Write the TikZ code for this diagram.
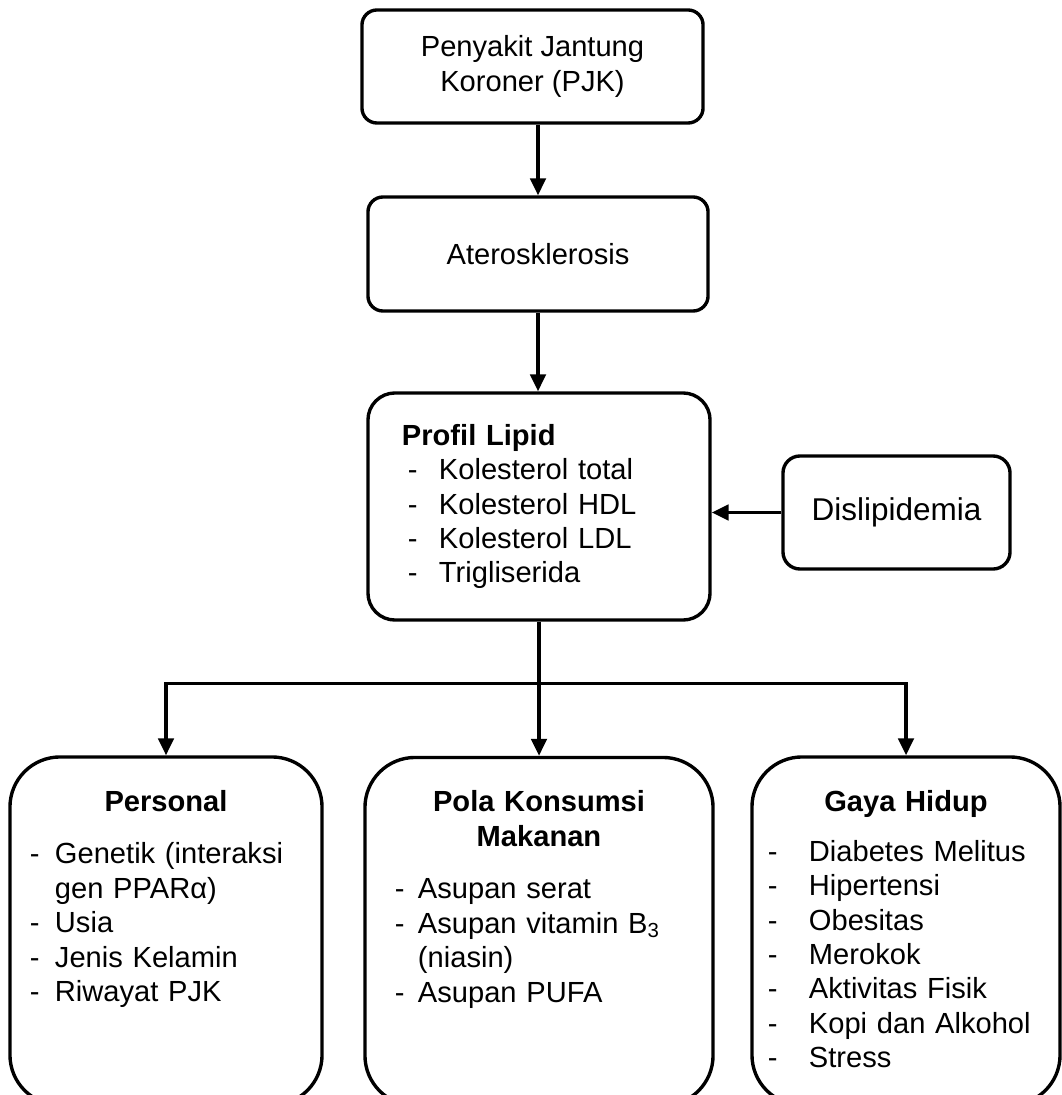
\documentclass[tikz,border=0pt]{standalone}
\usepackage{fontspec}
\setmainfont{Liberation Sans}
\usepackage{tikz}
\usetikzlibrary{arrows.meta,positioning}

\newcommand{\mainsize}{\fontsize{20.7pt}{24.5pt}\selectfont}
\newcommand{\dashline}[3]{\makebox[#2][l]{\hspace*{#1}-}#3}

\begin{document}
\begin{tikzpicture}[x=0.025cm,y=-0.025cm,
    box/.style={draw,line width=2.4pt,rounded corners=0.375cm,align=center,font=\mainsize,minimum height=2.85cm},
    lipidbox/.style={draw,line width=2.4pt,rounded corners=0.675cm,align=left,font=\mainsize,text width=6.85cm,inner xsep=0.85cm,minimum height=5.675cm},
    lowbox/.style={draw,line width=2.4pt,rounded corners=1.25cm,minimum height=8.7cm},
    lowtext/.style={inner sep=0pt,font=\mainsize},
    arr/.style={line width=2.4pt,-{Triangle[length=12pt,width=11pt]}}]
  \useasboundingbox (0,0) rectangle (1062,1095);
  % top column
  \node[box,minimum width=8.525cm,minimum height=2.825cm] (pjk) at (532.5,66.5) {Penyakit Jantung\\Koroner (PJK)};
  \node[box,minimum width=8.5cm] (ater) at (538,254) {Aterosklerosis};
  \node[lipidbox] (lipid) at (539,506.5) {\textbf{Profil Lipid}\\
    \dashline{0.15cm}{0.925cm}{Kolesterol total}\\
    \dashline{0.15cm}{0.925cm}{Kolesterol HDL}\\
    \dashline{0.15cm}{0.925cm}{Kolesterol LDL}\\
    \dashline{0.15cm}{0.925cm}{Trigliserida}};
  \node[box,rounded corners=0.425cm,minimum width=5.675cm,minimum height=2.825cm,font=\fontsize{22.4pt}{26pt}\selectfont] (dis) at (896.5,512.5) {Dislipidemia};
  % bottom row
  \node[lowbox,minimum width=7.8cm] (personal) at (166,931) {};
  \node[lowbox,minimum width=8.7cm] (pola) at (539,931.5) {};
  \node[lowbox,minimum width=7.7cm] (gaya) at (906,931) {};
  \node[lowtext,text width=7.8cm,below=0.865cm of personal.north] (personaltxt) {%
    {\centering\bfseries Personal\par}\vspace{13pt}
    \raggedright
    \dashline{0.5cm}{1.125cm}{Genetik (interaksi}\\
    \hspace*{1.125cm}gen PPARα)\\
    \dashline{0.5cm}{1.125cm}{Usia}\\
    \dashline{0.5cm}{1.125cm}{Jenis Kelamin}\\
    \dashline{0.5cm}{1.125cm}{Riwayat PJK}\par};
  \node[lowtext,text width=8.7cm,below=0.865cm of pola.north] (polatxt) {%
    {\centering\bfseries Pola Konsumsi\\Makanan\par}\vspace{13pt}
    \raggedright
    \dashline{0.75cm}{1.325cm}{Asupan serat}\\
    \dashline{0.75cm}{1.325cm}{Asupan vitamin B\textsubscript{3}}\\
    \hspace*{1.325cm}(niasin)\\
    \dashline{0.75cm}{1.325cm}{Asupan PUFA}\par};
  \node[lowtext,text width=7.7cm,below=0.865cm of gaya.north] (gayatxt) {%
    {\centering\bfseries Gaya Hidup\par}\vspace{11pt}
    \raggedright
    \dashline{0.4cm}{1.425cm}{Diabetes Melitus}\\
    \dashline{0.4cm}{1.425cm}{Hipertensi}\\
    \dashline{0.4cm}{1.425cm}{Obesitas}\\
    \dashline{0.4cm}{1.425cm}{Merokok}\\
    \dashline{0.4cm}{1.425cm}{Aktivitas Fisik}\\
    \dashline{0.4cm}{1.425cm}{Kopi dan Alkohol}\\
    \dashline{0.4cm}{1.425cm}{Stress}\par};
  % connectors
  \draw[arr] (ater.north |- pjk.south) -- (ater.north);
  \draw[arr] (ater.south) -- (ater.south |- lipid.north);
  \draw[arr] (dis.west) -- (dis.west -| lipid.east);
  \path (lipid.south) ++(0,62) coordinate (split);
  \draw[arr] (lipid.south) -- (pola.north);
  \draw[arr] (split) -| (personal.north);
  \draw[arr] (split) -| (gaya.north);
\end{tikzpicture}
\end{document}
